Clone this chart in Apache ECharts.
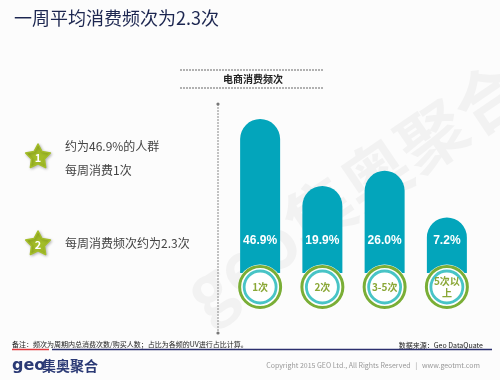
<!DOCTYPE html>
<html><head><meta charset="utf-8">
<script src="https://cdn.jsdelivr.net/npm/echarts@6/dist/echarts.min.js"></script>
<style>html,body{margin:0;padding:0;background:#fcfcfc}#c{width:500px;height:380px}</style>
</head><body><div id="c"></div>
<script>
const categories = ['1次', '2次', '3-5次', '5次以\n上'];
const shares = [46.9, 19.9, 26.0, 7.2];
const shareLabels = ['46.9%', '19.9%', '26.0%', '7.2%'];
const titleText = '一周平均消费频次为2.3次';
const headerText = '电商消费频次';
const note1a = '约为46.9%的人群';
const note1b = '每周消费1次';
const note2 = '每周消费频次约为2.3次';
const footNote = '备注：频次为周期内总消费次数/购买人数；占比为各频的UV进行占比计算。';
const sourceText = '数据来源：Geo DataQuate';
const copyrightText = 'Copyright 2015 GEO Ltd., All Rights Reserved   |   www.geotmt.com';

const Y_MIN = -12, Y_MAX = 55;
const FONT = '"Noto Sans CJK SC", "Noto Sans", sans-serif';
const chart = echarts.init(document.getElementById('c'));

function starPoints(cx, cy, R, r) {
  const pts = [];
  for (let i = 0; i < 10; i++) {
    const a = -Math.PI / 2 + i * Math.PI / 5;
    const rad = i % 2 === 0 ? R : r;
    pts.push([cx + rad * Math.cos(a), cy + rad * Math.sin(a)]);
  }
  return pts;
}

const graphics = [
  { type: 'text', left: 14, top: 9, style: { text: titleText, font: '18px ' + FONT, fill: '#1c2650' } },
  // watermark
  { type: 'text', x: 172, y: 272, rotation: Math.PI * 0.19, z: -10,
    style: { text: 'geo集奥聚合', font: 'bold 68px ' + FONT, fill: 'rgba(0,0,0,0.04)' } },
  // header
  { type: 'line', shape: { x1: 180, y1: 70, x2: 323, y2: 70 }, style: { stroke: '#666', lineWidth: 1, lineDash: [2, 1] } },
  { type: 'line', shape: { x1: 180, y1: 88, x2: 323, y2: 88 }, style: { stroke: '#666', lineWidth: 1, lineDash: [2, 1] } },
  { type: 'text', x: 253, y: 79, style: { text: headerText, font: 'bold 10px ' + FONT, fill: '#222', align: 'center', verticalAlign: 'middle' } },
  // vertical dashed axis
  { type: 'line', shape: { x1: 218, y1: 104, x2: 218, y2: 333 }, style: { stroke: '#888', lineWidth: 1, lineDash: [2, 1] } },
  { type: 'circle', shape: { cx: 218, cy: 104, r: 1.6 }, style: { fill: '#777' } },
  { type: 'circle', shape: { cx: 218, cy: 333, r: 1.6 }, style: { fill: '#777' } },
  // stars
  { type: 'polygon', shape: { points: starPoints(38, 157, 13, 6.8) }, style: { fill: '#a3bd28', shadowBlur: 3, shadowColor: 'rgba(0,0,0,0.25)', shadowOffsetX: 1, shadowOffsetY: 1, lineJoin: 'round', stroke: '#a3bd28', lineWidth: 1.5 } },
  { type: 'text', x: 38, y: 158, style: { text: '1', font: 'bold 11px ' + FONT, fill: '#fff', align: 'center', verticalAlign: 'middle' } },
  { type: 'polygon', shape: { points: starPoints(38, 244, 13, 6.8) }, style: { fill: '#a3bd28', shadowBlur: 3, shadowColor: 'rgba(0,0,0,0.25)', shadowOffsetX: 1, shadowOffsetY: 1, lineJoin: 'round', stroke: '#a3bd28', lineWidth: 1.5 } },
  { type: 'text', x: 38, y: 245, style: { text: '2', font: 'bold 11px ' + FONT, fill: '#fff', align: 'center', verticalAlign: 'middle' } },
  { type: 'text', x: 65, y: 146, style: { text: note1a, font: '12px ' + FONT, fill: '#444', verticalAlign: 'middle' } },
  { type: 'text', x: 65, y: 170, style: { text: note1b, font: '12px ' + FONT, fill: '#444', verticalAlign: 'middle' } },
  { type: 'text', x: 65, y: 243, style: { text: note2, font: '12px ' + FONT, fill: '#444', verticalAlign: 'middle' } },
  // footer
  { type: 'text', x: 12, y: 344, style: { text: footNote, font: '7px ' + FONT, fill: '#222', verticalAlign: 'middle' } },
  { type: 'text', x: 483, y: 345, style: { text: sourceText, font: '7px ' + FONT, fill: '#222', align: 'right', verticalAlign: 'middle' } },
  { type: 'line', shape: { x1: 12, y1: 349.5, x2: 49, y2: 349.5 }, style: { stroke: '#e0393e', lineWidth: 1.5 } },
  { type: 'line', shape: { x1: 52, y1: 349.5, x2: 492, y2: 349.5 }, style: { stroke: '#2b2f6e', lineWidth: 1.5 } },
  { type: 'text', x: 12, y: 366, style: { text: 'geo', font: 'bold 16px "DejaVu Sans", sans-serif', fill: '#2b3a75', verticalAlign: 'middle' } },
  { type: 'text', x: 42, y: 366, style: { text: '集奥聚合', font: 'bold 14px ' + FONT, fill: '#2b3a75', verticalAlign: 'middle' } },
  { type: 'text', x: 480, y: 365, style: { text: copyrightText, font: '7px ' + FONT, fill: '#999', align: 'right', verticalAlign: 'middle' } }
];

chart.setOption({
  backgroundColor: '#fcfcfc',
  animation: false,
  grid: { left: 229, width: 249, top: 99, bottom: 115, containLabel: false },
  xAxis: { type: 'category', data: categories, axisLine: { show: false }, axisTick: { show: false }, axisLabel: { show: false } },
  yAxis: { type: 'value', min: Y_MIN, max: Y_MAX, show: false, splitLine: { show: false } },
  graphic: graphics,
  series: [{
    type: 'custom',
    data: shares.map((v, i) => [i, v]),
    renderItem: function (params, api) {
      const i = api.value(0);
      const top = api.coord([i, api.value(1)]);
      const bottom = api.coord([i, Y_MIN]);
      const w = 40;
      const cx = top[0];
      const cy = bottom[1] + 22;
      return {
        type: 'group',
        children: [
          { type: 'rect', shape: { x: cx - w / 2, y: top[1], width: w, height: bottom[1] - top[1] + 8, r: [w / 2, w / 2, 0, 0] }, style: { fill: '#03a5bb' } },
          { type: 'text', x: cx, y: bottom[1] - 24, style: { text: shareLabels[i], font: 'bold 12px "Liberation Sans", Arial, sans-serif', fill: '#fff', align: 'center', verticalAlign: 'middle' } },
          { type: 'circle', shape: { cx: cx, cy: cy, r: 22.5 }, style: { fill: '#fff' } },
          { type: 'circle', shape: { cx: cx, cy: cy, r: 20.5 }, style: { fill: 'none', stroke: '#7aae36', lineWidth: 3 } },
          { type: 'circle', shape: { cx: cx, cy: cy, r: 16 }, style: { fill: '#fff', stroke: '#48c4c6', lineWidth: 2.8 } },
          { type: 'text', x: cx, y: cy, style: { text: categories[i], font: 'bold 10px ' + FONT, fill: '#8aa736', align: 'center', verticalAlign: 'middle', lineHeight: 12 } }
        ]
      };
    }
  }]
});
</script></body></html>
